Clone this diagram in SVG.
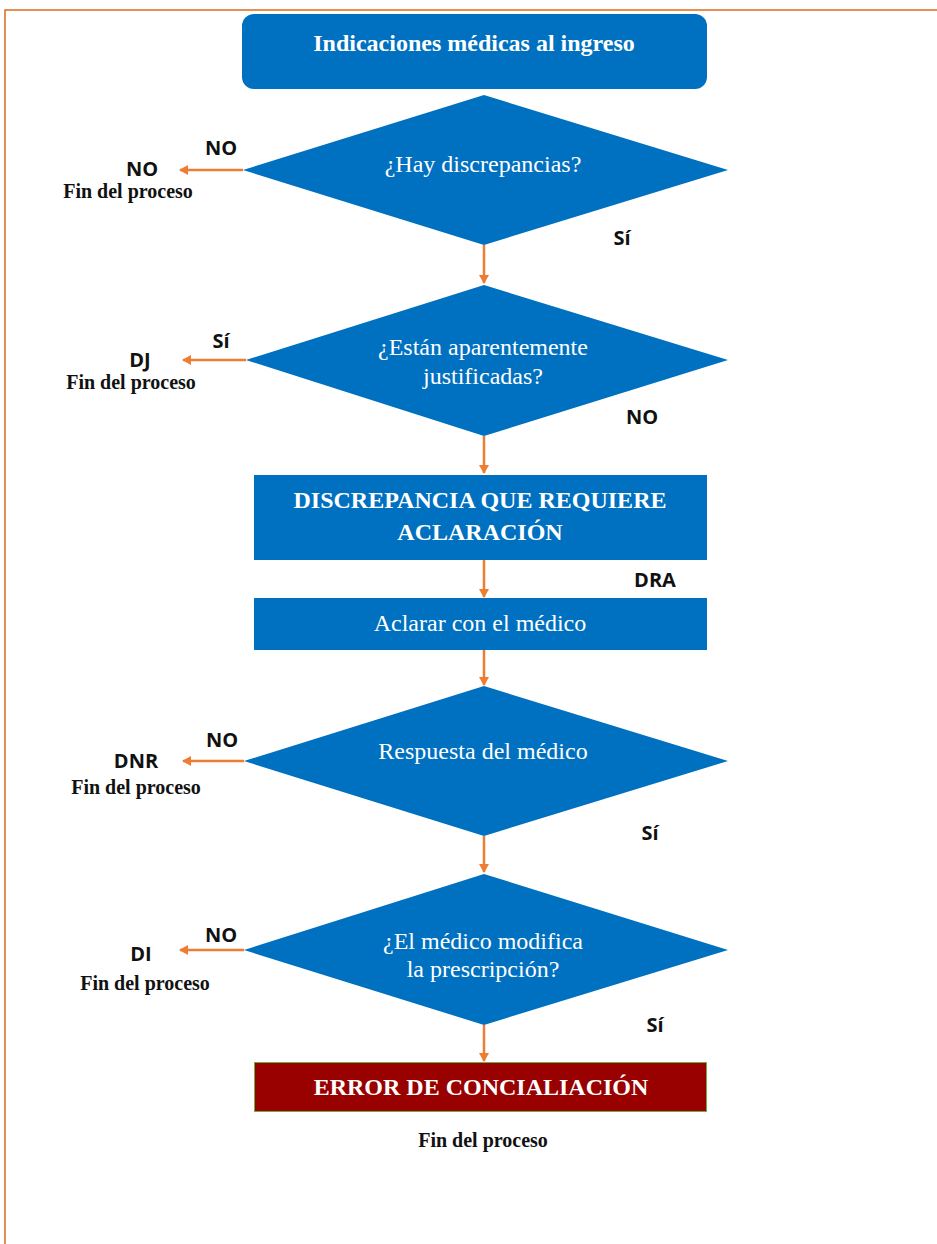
<svg xmlns="http://www.w3.org/2000/svg" width="937" height="1244" viewBox="0 0 937 1244">
<defs>
<marker id="ah" markerWidth="10" markerHeight="10" refX="8" refY="5" orient="auto" markerUnits="userSpaceOnUse">
<path d="M0,0 L9,5 L0,10 Z" fill="#ED7D31"/>
</marker>
<style>
.blue{fill:#0070C0}
.wt{font-family:"Liberation Serif",serif;fill:#ffffff;text-anchor:middle;font-size:24px}
.wb{font-family:"Liberation Serif",serif;fill:#ffffff;text-anchor:middle;font-weight:bold;font-size:24px}
.lab{font-family:"Open Sans","Liberation Sans",sans-serif;font-weight:bold;font-size:20px;fill:#111;text-anchor:middle}
.fin{font-family:"Liberation Serif",serif;font-weight:bold;font-size:20px;fill:#111;text-anchor:middle}
.con{stroke:#ED7D31;stroke-width:2.5;fill:none;marker-end:url(#ah)}
</style>
</defs>
<rect width="937" height="1244" fill="#ffffff"/>
<path d="M5,1244 L5,10 L937,10" fill="none" stroke="#E06A1E" stroke-width="1.5"/>

<g id="n1">
<rect x="242" y="14" width="465" height="75" rx="12" class="blue"/>
<text x="474" y="51" class="wb">Indicaciones médicas al ingreso</text>
</g>
<g id="d1">
<polygon points="484,95 728,170 484,245 243,170" class="blue"/>
<text x="483" y="172" class="wt">¿Hay discrepancias?</text>
</g>
<g id="d2">
<polygon points="484,285 728,360 484,436 246,360" class="blue"/>
<text x="483" y="355" class="wt">¿Están aparentemente</text>
<text x="483" y="384" class="wt">justificadas?</text>
</g>
<g id="n3">
<rect x="254" y="475" width="453" height="85" class="blue"/>
<text x="480" y="508" class="wb">DISCREPANCIA QUE REQUIERE</text>
<text x="480" y="540" class="wb">ACLARACIÓN</text>
</g>
<g id="n4">
<rect x="254" y="598" width="453" height="52" class="blue"/>
<text x="480" y="631" class="wt">Aclarar con el médico</text>
</g>
<g id="d3">
<polygon points="484,686 728,761 484,836 244,761" class="blue"/>
<text x="483" y="759" class="wt">Respuesta del médico</text>
</g>
<g id="d4">
<polygon points="484,874 728,950 484,1025 244,950" class="blue"/>
<text x="483" y="949" class="wt">¿El médico modifica</text>
<text x="483" y="977" class="wt">la prescripción?</text>
</g>
<g id="n5">
<rect x="254.5" y="1062.5" width="452" height="49" fill="#990000" stroke="#70AD47" stroke-width="1"/>
<text x="481" y="1095" class="wb">ERROR DE CONCIALIACIÓN</text>
</g>

<g id="connectors">
<line x1="484" y1="245" x2="484" y2="283" class="con"/>
<line x1="484" y1="436" x2="484" y2="473" class="con"/>
<line x1="484" y1="560" x2="484" y2="597" class="con"/>
<line x1="484" y1="650" x2="484" y2="685" class="con"/>
<line x1="484" y1="836" x2="484" y2="872" class="con"/>
<line x1="484" y1="1025" x2="484" y2="1061" class="con"/>
<line x1="243" y1="170" x2="180" y2="170" class="con"/>
<line x1="246" y1="360" x2="183" y2="360" class="con"/>
<line x1="244" y1="761" x2="183" y2="761" class="con"/>
<line x1="244" y1="950" x2="180" y2="950" class="con"/>
</g>

<g id="labels">
<text x="221" y="155" class="lab">NO</text>
<text x="142" y="176" class="lab">NO</text>
<text x="128" y="198" class="fin">Fin del proceso</text>
<text x="622" y="245" class="lab">Sí</text>

<text x="221" y="348" class="lab">Sí</text>
<text x="140" y="367" class="lab">DJ</text>
<text x="131" y="389" class="fin">Fin del proceso</text>
<text x="642" y="424" class="lab">NO</text>

<text x="655" y="587" class="lab">DRA</text>

<text x="222" y="747" class="lab">NO</text>
<text x="136" y="768" class="lab">DNR</text>
<text x="136" y="794" class="fin">Fin del proceso</text>
<text x="650" y="840" class="lab">Sí</text>

<text x="221" y="942" class="lab">NO</text>
<text x="141" y="961" class="lab">DI</text>
<text x="145" y="990" class="fin">Fin del proceso</text>
<text x="655" y="1032" class="lab">Sí</text>

<text x="483" y="1147" class="fin">Fin del proceso</text>
</g>
</svg>
